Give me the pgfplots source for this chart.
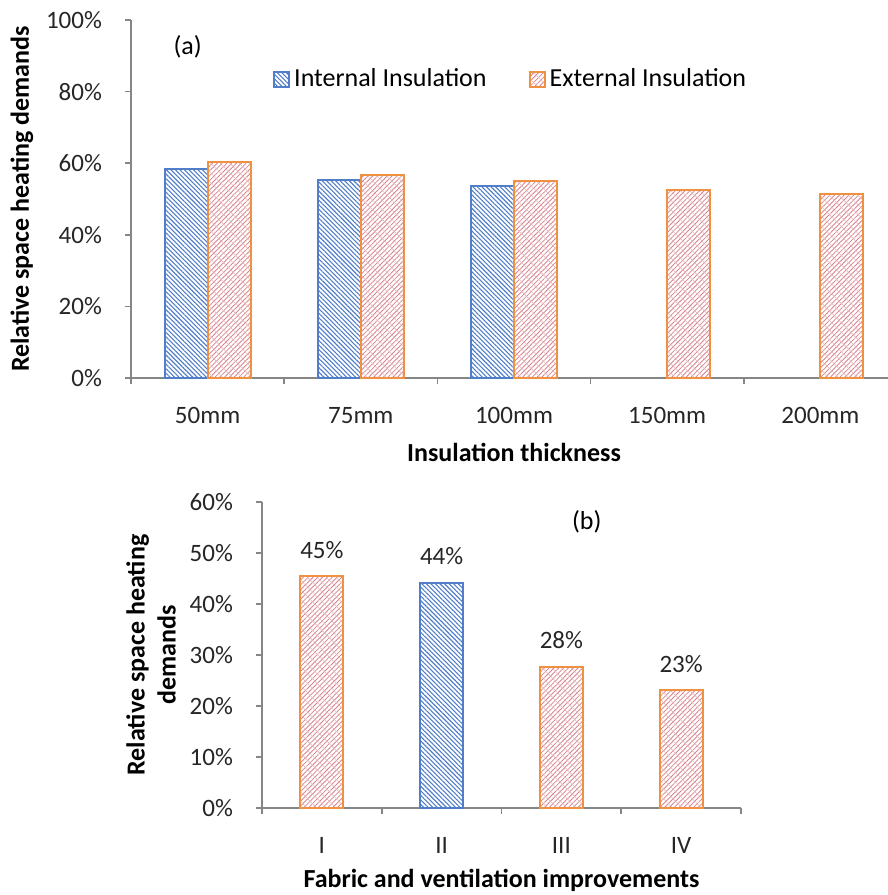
\documentclass[border=0pt]{standalone}
\usepackage{fontspec}
\setmainfont{Carlito}
\usepackage{pgfplots}
\pgfplotsset{compat=1.18}
\usetikzlibrary{patterns.meta}
\definecolor{intblue}{RGB}{80,126,200}
\definecolor{extorange}{RGB}{240,145,65}
\definecolor{extpink}{RGB}{215,130,140}
\definecolor{axgray}{RGB}{134,134,134}
\tikzset{
 intstyle/.style={draw=intblue, line width=1pt, pattern={Lines[angle=-45,distance=1.6pt,line width=0.55pt]}, pattern color=intblue},
 extstyle/.style={draw=extorange, line width=1pt, pattern={Lines[angle=45,distance=1.7pt,line width=0.4pt]}, pattern color=extpink,
   postaction={pattern={Lines[angle=-45,distance=3.4pt,line width=0.3pt]}, pattern color=extpink!55}},
}
\newcommand{\lblfont}{\fontsize{13}{15.5}\selectfont\bfseries}
\begin{document}
\begin{tikzpicture}[font=\fontsize{13}{15.5}\selectfont]
\pgfplotsset{
  common/.style={
    scale only axis, axis lines*=left,
    axis line style={axgray, line width=0.8pt},
    tick align=outside,
    major x tick style={draw=none},
    minor x tick style={axgray, line width=0.8pt},
    ytick style={axgray, line width=0.8pt},
    major tick length=3pt, minor tick length=3pt,
    ymin=0,
    yticklabel={\pgfmathprintnumber{\tick}\%},
    /pgf/number format/assume math mode=true,
    ticklabel style={font=\fontsize{12.5}{15}\selectfont},
    yticklabel style={xshift=-8pt, text=black!85},
    xticklabel style={yshift=-8pt, text=black!85},
    ybar, bar width=21.5pt,
    legend image code/.code={\draw[##1] (0pt,-3.75pt) rectangle (7.5pt,3.75pt);},
    label style={font=\lblfont},
  }
}
\begin{axis}[common, at={(0pt,0pt)}, anchor=south west,
  width=383pt, height=179pt,
  xmin=-0.5, xmax=4.5, ymax=100, ytick={0,20,...,100},
  xtick={0,...,4}, xticklabels={50mm,75mm,100mm,150mm,200mm},
  minor xtick={-0.5,0.5,...,4.5},
  xlabel={Insulation thickness},
  xlabel style={at={(axis description cs:0.5,-0.207)}, anchor=center},
  ylabel={Relative space heating demands},
  ylabel style={at={(axis description cs:-0.1423,0.5)}, anchor=center},
  legend columns=2,
  legend style={draw=none, fill=none, at={(0.497,0.835)}, anchor=center,
    font=\fontsize{13}{15.5}\selectfont,
    /tikz/every even column/.append style={column sep=19pt}},
  legend cell align=left,
]
\addplot[intstyle, bar shift=-10.75pt] coordinates {(0,58.5)(1,55.4)(2,53.7)};
\addlegendentry{Internal Insulation}
\addplot[extstyle, bar shift=10.75pt] coordinates {(0,60.3)(1,56.6)(2,54.9)(3,52.5)(4,51.3)};
\addlegendentry{External Insulation}
\node at (rel axis cs:0.074,0.925) {(a)};
\end{axis}
\begin{axis}[common, at={(65.5pt,-215pt)}, anchor=south west,
  width=239.5pt, height=153pt,
  xmin=-0.5, xmax=3.5, ymax=60, ytick={0,10,...,60},
  xtick={0,...,3}, xticklabels={I,II,III,IV},
  minor xtick={-0.5,0.5,...,3.5},
  xlabel={Fabric and ventilation improvements},
  xlabel style={at={(axis description cs:0.5,-0.238)}, anchor=center},
  ylabel={Relative space heating\\demands},
  ylabel style={at={(axis description cs:-0.2317,0.5)}, anchor=center, align=center},
  nodes near coords={\pgfmathprintnumber[fixed,precision=0]{\pgfplotspointmeta}\%},
  nodes near coords style={yshift=5pt, text=black!85, font=\fontsize{12.5}{15}\selectfont},
]
\addplot[extstyle, bar shift=0pt] coordinates {(0,45.4)(2,27.7)(3,23.1)};
\addplot[intstyle, bar shift=0pt] coordinates {(1,44.2)};
\node at (rel axis cs:0.678,0.935) {(b)};
\end{axis}
\pgfresetboundingbox
\path[use as bounding box] (-65.5pt,-258.5pt) rectangle (378.5pt,189pt);
\end{tikzpicture}
\end{document}
